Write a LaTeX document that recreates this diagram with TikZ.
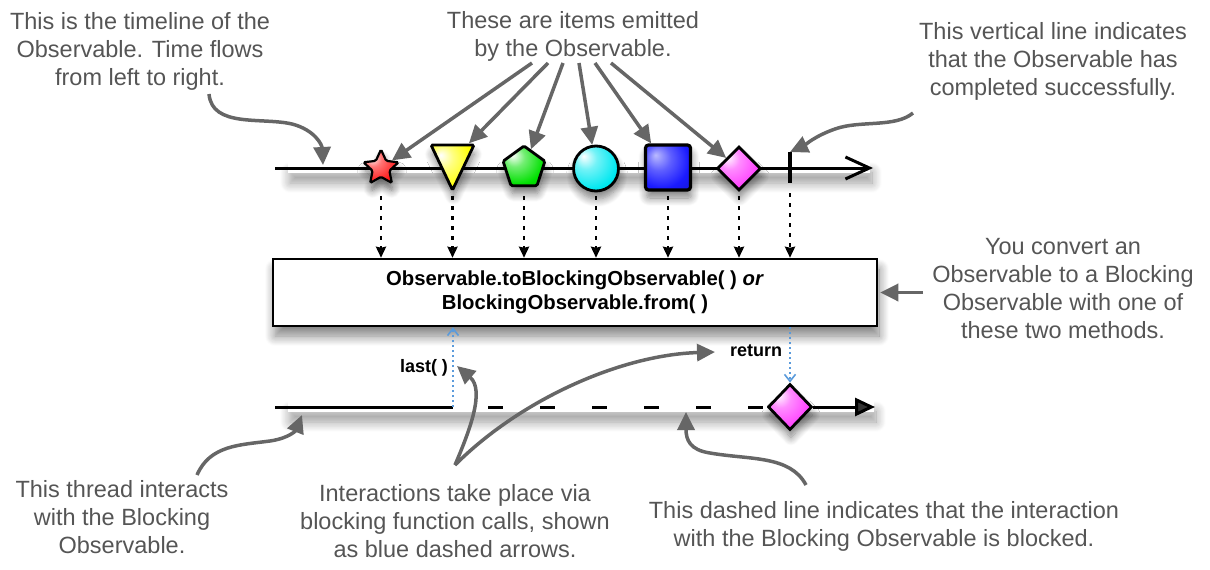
\documentclass[tikz,border=0pt]{standalone}
\usepackage{fontspec}
\setmainfont{Liberation Sans}
\usetikzlibrary{arrows.meta,shapes.geometric,shadows.blur}
\definecolor{anng}{HTML}{666666}
\definecolor{annt}{HTML}{555555}
\definecolor{bluedot}{HTML}{5B9BDB}
\definecolor{cRed}{HTML}{FF1A1A}
\definecolor{cYel}{HTML}{FFFF00}
\definecolor{cGrn}{HTML}{00E000}
\definecolor{cCya}{HTML}{00E8F0}
\definecolor{cBlu}{HTML}{1A1AFF}
\definecolor{cMag}{HTML}{FF40FF}
\pgfdeclareradialshading{shRed}{\pgfpoint{-14bp}{14bp}}{color(0bp)=(white); color(12bp)=(cRed!60!white); color(30bp)=(cRed); color(60bp)=(cRed!75!black)}
\pgfdeclareradialshading{shYel}{\pgfpoint{-14bp}{14bp}}{color(0bp)=(white); color(12bp)=(cYel!50!white); color(30bp)=(cYel); color(60bp)=(cYel!85!black)}
\pgfdeclareradialshading{shGrn}{\pgfpoint{-14bp}{14bp}}{color(0bp)=(white); color(12bp)=(cGrn!55!white); color(30bp)=(cGrn); color(60bp)=(cGrn!75!black)}
\pgfdeclareradialshading{shCya}{\pgfpoint{-14bp}{14bp}}{color(0bp)=(white); color(12bp)=(cCya!55!white); color(30bp)=(cCya); color(60bp)=(cCya!80!black)}
\pgfdeclareradialshading{shBlu}{\pgfpoint{-14bp}{14bp}}{color(0bp)=(white!70!cBlu); color(14bp)=(cBlu!70!white); color(30bp)=(cBlu); color(60bp)=(cBlu!60!black)}
\pgfdeclareradialshading{shMag}{\pgfpoint{-14bp}{14bp}}{color(0bp)=(white); color(12bp)=(cMag!60!white); color(30bp)=(cMag); color(60bp)=(cMag!70!black)}
\begin{document}
\begin{tikzpicture}[x=1pt,y=-1pt,
  item/.style={draw=black, line width=2.8pt, inner sep=0pt, shade,
    blur shadow={shadow xshift=1pt, shadow yshift=-8pt, shadow opacity=50, shadow blur steps=10, shadow blur radius=8pt}},
  lineshadow/.style={fill=white, draw=none,
    blur shadow={shadow xshift=2pt, shadow yshift=-10pt, shadow opacity=40, shadow blur steps=12, shadow blur radius=10pt}},
  anntext/.style={text=annt, font=\fontsize{23.5}{28}\selectfont, align=center, inner sep=0pt, anchor=north},
  ann/.style={draw=anng, line width=3.5pt, -{Triangle[length=18pt,width=17pt]}},
  dotarr/.style={line width=2.6pt, dash pattern=on 4pt off 6pt, -{Stealth[length=11pt,width=10pt,inset=1pt]}},
  bluearr/.style={draw=bluedot, line width=1.6pt, dash pattern=on 2pt off 3pt, -{Straight Barb[length=7pt,width=11pt]}},
  tline/.style={line width=3pt},
  lbl/.style={font=\fontsize{18}{20}\selectfont\bfseries, inner sep=0pt}
]
\useasboundingbox (0,0) rectangle (1210,570);
% line shadows
\path[lineshadow] (288,162) rectangle (870,173);
\path[lineshadow] (288,401) rectangle (874,412);

% top timeline
\coordinate (tl0) at (275,168);
\coordinate (tl1) at (873,168);
\draw[tline, -{Straight Barb[length=24pt,width=22pt]}] (tl0) -- (tl1);

% items
\node[item, star, star points=5, star point ratio=2.1, minimum size=37pt, shading=shRed, rounded corners=1.5pt, line width=2.2pt] (s1) at (381,168) {};
\node[item, regular polygon, regular polygon sides=3, shape border rotate=180, minimum size=49.6pt, yscale=1.21, shading=shYel, rounded corners=1.5pt] (s2) at (452.5,160) {};
\node[item, regular polygon, regular polygon sides=5, minimum size=44pt, shading=shGrn, rounded corners=1.5pt] (s3) at (524,168) {};
\node[item, circle, minimum size=45pt, shading=shCya] (s4) at (596,168.5) {};
\node[item, rectangle, minimum size=45pt, shading=shBlu, rounded corners=3pt, line width=3.2pt] (s5) at (668,167.5) {};
\node[item, diamond, minimum width=44pt, minimum height=44pt, shading=shMag] (s6) at (739,168.5) {};
\coordinate (bar) at (790,152);
\coordinate (barb) at (790,183);
\draw[line width=3.5pt] (bar) -- (barb);

% conversion box
\node[draw, line width=2.5pt, fill=white, minimum width=604pt, minimum height=67pt, inner sep=0pt,
  blur shadow={shadow xshift=2pt, shadow yshift=-10pt, shadow opacity=50, shadow blur steps=12, shadow blur radius=10pt},
  align=center, font=\fontsize{20.3}{24}\selectfont\bfseries] (box) at (575,292.5)
  {Observable.toBlockingObservable( ) \textit{or}\\BlockingObservable.from( )};

% dotted arrows
\foreach \n in {s1,s2,s3,s4,s5,s6}{
  \draw[dotarr] (\n |- 0,196) -- (\n |- box.north);
}
\draw[dotarr] (barb |- 0,193) -- (barb |- box.north);

% bottom timeline
\coordinate (bl0) at (275,407);
\coordinate (lastpt) at (453,407);
\coordinate (bl1) at (875,407);
\node[item, diamond, minimum width=44pt, minimum height=46pt, shading=shMag] (d2) at (790,407) {};
\draw[tline] (bl0) -- (lastpt);
\draw[white, line width=6pt] (lastpt) -- (d2.west);
\draw[tline, dash pattern=on 15pt off 37pt] ([xshift=35pt]lastpt) -- (d2.west);
\draw[tline, -{Triangle[length=20pt,width=18pt]}] (d2.east) -- (bl1);

% blocking calls
\draw[bluearr] (lastpt) -- (lastpt |- box.south);
\draw[bluearr] (d2 |- box.south) -- (d2.north);
\node[lbl] (last) at (424,368) {last( )};
\node[lbl] (ret) at (756,351) {return};

% annotation texts
\node[anntext] (t1) at (140,12) {This is the timeline of the\\Observable. Time flows\\from left to right.};
\node[anntext] (t2) at (573,11) {These are items emitted\\by the Observable.};
\node[anntext] (t3) at (1053,22) {This vertical line indicates\\that the Observable has\\completed successfully.};
\node[anntext] (t4) at (1063,238) {You convert an\\Observable to a Blocking\\Observable with one of\\these two methods.};
\node[anntext] (t5) at (122,480) {This thread interacts\\with the Blocking\\Observable.};
\node[anntext] (t6) at (455,484) {Interactions take place via\\blocking function calls, shown\\as blue dashed arrows.};
\node[anntext] (t7) at (884,501) {This dashed line indicates that the interaction\\with the Blocking Observable is blocked.};

% annotation arrows
\coordinate (a1) at (209,94);
\coordinate (a1e) at (323,165);
\draw[ann] (a1) .. controls (212,128) and (262,117) .. (292,124) .. controls (315,130) and (322,145) .. (a1e);
\foreach \n/\x in {s1/532,s2/548,s3/563,s4/579,s5/595,s6/611}{
  \coordinate (e\n) at (\x,63);
  \draw[ann] (e\n) -- (\n);
}
\coordinate (a3) at (913,113);
\draw[ann] (a3) .. controls (895,128) and (860,120) .. (835,129) .. controls (815,136) and (805,145) .. (bar);
\coordinate (a4) at (923,292.5);
\draw[ann, shorten >=2pt] (a4) -- (box.east);
\coordinate (a5) at (197,475);
\coordinate (a5e) at (302,415);
\draw[ann] (a5) .. controls (210,445) and (240,445) .. (270,441) .. controls (290,438) and (296,430) .. (a5e);
\coordinate (a6) at (455,465);
\coordinate (a6l) at (457,366);
\coordinate (a6r) at (715,352);
\draw[ann] (a6) .. controls (470,430) and (485,390) .. (a6l);
\draw[ann] (a6) .. controls (520,400) and (620,355) .. (a6r);
\coordinate (a7) at (806,485);
\coordinate (a7e) at (686,412);
\draw[ann] (a7) .. controls (790,455) and (750,460) .. (710,453) .. controls (690,450) and (686,440) .. (a7e);
\end{tikzpicture}
\end{document}
